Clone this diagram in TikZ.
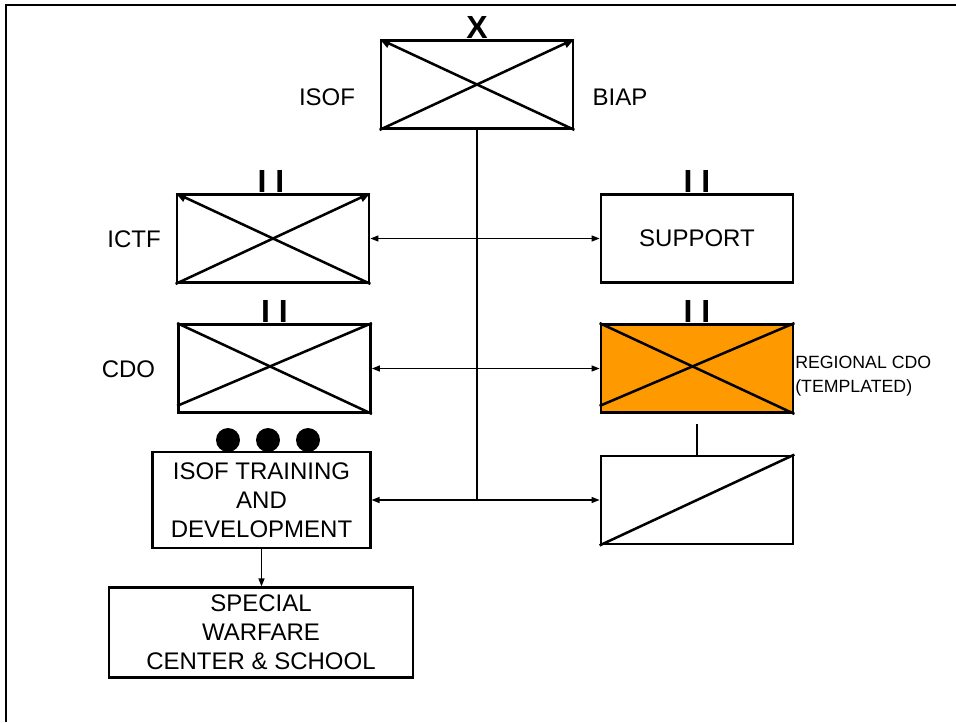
\documentclass[tikz,border=0pt]{standalone}
\usepackage{fontspec}
\setmainfont{Liberation Sans}
\usetikzlibrary{arrows.meta}
\definecolor{unitorange}{HTML}{FF9900}
\tikzset{ctip/.tip={Triangle[length=6pt,width=4.5pt]},
  dtip/.tip={Triangle[length=8pt,width=6.5pt]}}
\begin{document}
\begin{tikzpicture}[x=0.75pt,y=-0.75pt,
  unitbox/.style={draw, line width=2.1pt, minimum width=144pt, minimum height=66pt, inner sep=0pt,
    font=\fontsize{18}{21.75}\selectfont, align=center},
  diag/.style={line width=1.9pt},
  diagtip/.style={diag, -dtip},
  conn/.style={line width=0.9pt},
  lab/.style={font=\fontsize{18}{21.75}\selectfont, inner sep=0pt},
  smalllab/.style={font=\fontsize{13.3}{18}\selectfont, inner sep=0pt, align=left},
  echelon/.style={font=\bfseries\fontsize{24}{26}\selectfont, inner sep=0pt, anchor=south},
  frameline/.style={line width=1.1pt},
  dot/.style={circle, fill=black, minimum size=18pt, inner sep=0pt}
]
\useasboundingbox (0,0) rectangle (956,722);
\draw[frameline] (6,722) -- (6,5) -- (956,5);

% units
\node[unitbox] (top) at (477,84.5) {};
\node[unitbox] (ictf) at (273,238.5) {};
\node[unitbox] (sup) at (697,238.5) {SUPPORT};
\node[unitbox] (cdo) at (274.5,368.5) {};
\node[unitbox, fill=unitorange] (reg) at (697,368.5) {};
\node[unitbox] (br) at (697,500) {};
\node[unitbox, minimum width=163pt, minimum height=72pt] (trn) at (261.5,500) {ISOF TRAINING\\AND\\DEVELOPMENT};
\node[unitbox, minimum width=228pt, minimum height=67pt] (swc) at (261,632.5) {SPECIAL\\WARFARE\\CENTER \& SCHOOL};

% diagonals
\draw[diagtip] (top.south west) -- (top.north east);
\draw[diagtip] (top.south east) -- (top.north west);
\draw[diagtip] (ictf.south west) -- (ictf.north east);
\draw[diagtip] (ictf.south east) -- (ictf.north west);
\draw[diag] (cdo.north west) -- (cdo.south east);
\draw[diag] ([yshift=6pt]cdo.south west) -- (cdo.north east);
\draw[diag] (reg.north west) -- (reg.south east);
\draw[diag] ([yshift=6pt]reg.south west) -- (reg.north east);
\draw[diag] (br.south west) -- (br.north east);

% echelon marks
\node[echelon] (xmark) at (top.north) {X};
\node[echelon] (ii1) at ([xshift=-1.5pt]ictf.north) {I I};
\node[echelon] (ii2) at (sup.north) {I I};
\node[echelon] (ii3) at (cdo.north) {I I};
\node[echelon] (ii4) at (reg.north) {I I};
\node[dot] (d1) at (228,440) {};
\node[dot] (d2) at (268,440) {};
\node[dot] (d3) at (308,440) {};

% labels
\node[lab] (isofl) at (327,97) {ISOF};
\node[lab] (biapl) at (620,97) {BIAP};
\node[lab] (ictfl) at (134,239) {ICTF};
\node[lab] (cdol) at (128.5,369) {CDO};
\node[smalllab, anchor=west] (regl) at (795,376) {REGIONAL CDO\\(TEMPLATED)};

% connectors
\coordinate (j) at (top.south |- br.west);
\draw[conn] (top.south) -- (j);
\draw[conn, ctip-ctip] (ictf.east) -- (sup.west);
\draw[conn, ctip-ctip] (cdo.east) -- (reg.west);
\draw[conn, -ctip] (j) -- (br.west);
\draw[conn, -ctip] (j) -- (trn.east);
\draw[conn, -ctip] (trn.south) -- (trn.south |- swc.north);
\draw[line width=2pt] (br.north) -- ++(0,-31);
\end{tikzpicture}
\end{document}
